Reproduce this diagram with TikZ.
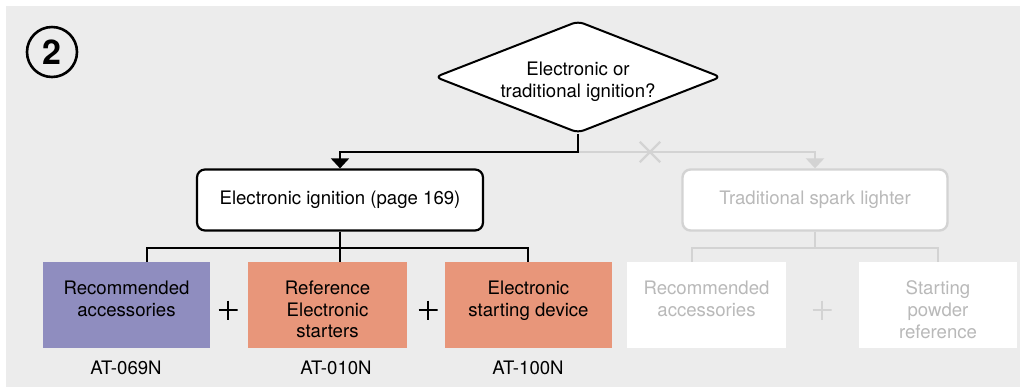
\documentclass[tikz,border=0pt]{standalone}
\usepackage{fontspec}
\setmainfont{TeX Gyre Heros}
\usetikzlibrary{arrows.meta,shapes.geometric,shapes.misc}

\definecolor{panel}{HTML}{ECECEC}
\definecolor{accpurple}{HTML}{8F8DBF}
\definecolor{startorange}{HTML}{E8967A}
\definecolor{faded}{HTML}{D3D3D3}
\definecolor{fadedtext}{HTML}{B9B9B9}

\begin{document}
\begin{tikzpicture}[x=0.5pt,y=-0.5pt,>={Triangle[width=9pt,length=5pt]},
  font=\fontsize{9.3}{10.8}\selectfont]

% Define block styles
\tikzstyle{decision} = [diamond, aspect=2.55, draw, fill=white, line width=1pt, rounded corners=3pt,
    minimum width=143pt, minimum height=56pt, inner sep=0pt]
\tikzstyle{block} = [rectangle, draw, fill=white, rounded corners=4pt, line width=1.1pt,
    minimum width=143pt, minimum height=30.5pt]
\tikzstyle{fadedblock} = [block, draw=faded, text=fadedtext, line width=1.2pt, minimum width=132.5pt]
\tikzstyle{card} = [rectangle, minimum height=43pt, inner sep=0pt]
\tikzstyle{cardtext} = [anchor=north, inner sep=0pt, align=center]
\tikzstyle{line} = [draw, line width=1pt]
\tikzstyle{fadedline} = [draw=faded, line width=1.2pt]
\tikzstyle{plus} = [minimum size=9.5pt, inner sep=0pt,
    path picture={\draw[line width=1pt] (path picture bounding box.north) -- (path picture bounding box.south)
      (path picture bounding box.west) -- (path picture bounding box.east);}]

\useasboundingbox (0,0) rectangle (1020,387);
\fill[panel] (6,6) rectangle (1020,387);

\node[circle, draw, line width=1.3pt, minimum size=25pt, inner sep=0pt,
  font=\fontsize{17}{17}\selectfont\bfseries] (num) at (52,52) {2};

\node[decision] (choice) at (578,77) {};
\node[align=center, inner sep=0pt] (choicetext) at ([yshift=-2.5pt]choice.center) {Electronic or\\traditional ignition?};
\node[block] (elec) at (340,200) {Electronic ignition (page 169)};
\node[fadedblock] (trad) at (815,200) {Traditional spark lighter};

% electronic branch
\node[card, fill=accpurple, minimum width=83.5pt] (acc) at (126.5,305) {};
\node[card, fill=startorange, minimum width=79.5pt] (ref) at (327.5,305) {};
\node[card, fill=startorange, minimum width=83.5pt] (dev) at (528.5,305) {};
\node[cardtext] (acctext) at ([yshift=-9.5pt]acc.north) {Recommended\\accessories};
\node[cardtext] (reftext) at ([yshift=-9.5pt]ref.north) {Reference\\Electronic\\starters};
\node[cardtext] (devtext) at ([yshift=-9.5pt]dev.north) {Electronic\\starting device};
\node[plus] (plus1) at (228,310) {};
\node[plus] (plus2) at (428,310) {};
\node (code1) at (126,368) {AT-069N};
\node (code2) at (336,368) {AT-010N};
\node (code3) at (528,368) {AT-100N};

% traditional branch
\node[card, fill=white, minimum width=79.5pt] (tacc) at (706.5,305) {};
\node[card, fill=white, minimum width=79pt] (powder) at (938,305) {};
\node[cardtext, text=fadedtext] (tacctext) at ([yshift=-9.5pt]tacc.north) {Recommended\\accessories};
\node[cardtext, text=fadedtext] (powdertext) at ([yshift=-9.5pt]powder.north) {Starting\\powder\\reference};
\node[plus, color=faded] (plus3) at (822,310) {};

\coordinate (split) at (578,152);
\coordinate (e1) at (147,248);
\coordinate (e3) at (528,248);
\coordinate (t1) at (692,248);
\coordinate (t3) at (938,248);

\path[fadedline, ->] (split) -| (trad.north);
\node[cross out, draw=faded, line width=1.2pt, minimum size=9pt, inner sep=0pt] (nox) at (650,152) {};
\path[line, ->] (choice.south) -- (split) -| (elec.north);

\path[line] (elec.south) -- (elec.south |- ref.north);
\path[line] (e1 |- acc.north) -- (e1) -- (e3) -- (e3 |- dev.north);
\path[fadedline] (trad.south) -- (trad.south |- t1);
\path[fadedline] (t1 |- tacc.north) -- (t1) -- (t3) -- (powder.north);

\end{tikzpicture}
\end{document}
